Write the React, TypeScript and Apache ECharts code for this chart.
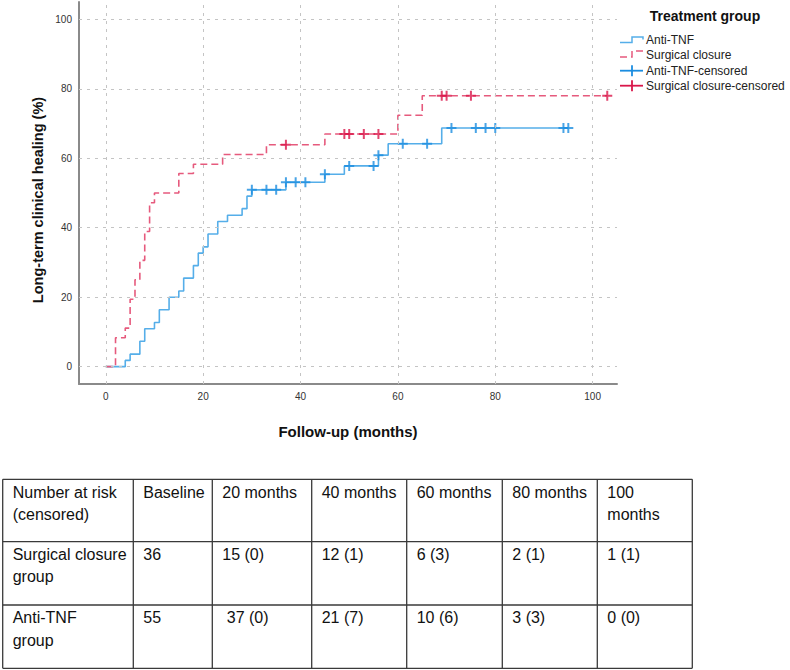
import React, { useEffect, useRef } from 'react';
import * as echarts from 'echarts';

// ---------- data ----------
const xTickValues = [0, 20, 40, 60, 80, 100];
const yTickValues = [0, 20, 40, 60, 80, 100];

// Kaplan-Meier cumulative healing (%) — [month, %]
const antiTnfSteps: [number, number][] = [
  [0, 0], [4, 1.8], [5, 3.6], [7, 7.3], [8, 10.9], [10, 12.7], [11, 16.4], [13, 20],
  [15, 21.8], [16, 25.5], [18, 29.1], [19, 32.7], [20, 34.5], [21, 38.2], [23, 41.8],
  [25, 43.6], [28, 45.5], [29, 49.1], [30, 50.9], [37, 53.1], [45, 55.4], [49, 57.8],
  [56, 60.9], [58, 64.2], [69, 68.7], [95, 68.7],
];
const antiTnfCensored: [number, number][] = [
  [30, 50.9], [33, 50.9], [35, 50.9], [37, 53.1], [39, 53.1], [41, 53.1], [45, 55.4],
  [50, 57.8], [55, 57.8], [56, 60.9], [61, 64.2], [66, 64.2], [71, 68.7], [76, 68.7],
  [78, 68.7], [80, 68.7], [94, 68.7], [95, 68.7],
];
const surgicalSteps: [number, number][] = [
  [0, 0], [2, 8.3], [4, 11.1], [5, 19.4], [6, 25], [7, 30.6], [8, 38.9], [9, 47.2],
  [10, 50], [15, 55.6], [18, 58.3], [24, 61.1], [33, 63.9], [45, 67], [60, 72.4],
  [65, 78], [103, 78],
];
const surgicalCensored: [number, number][] = [
  [37, 63.9], [49, 67], [50, 67], [53, 67], [56, 67], [69, 78], [70, 78], [75, 78], [103, 78],
];

const legendTitle = 'Treatment group';
const legendLabels = ['Anti-TNF', 'Surgical closure', 'Anti-TNF-censored', 'Surgical closure-censored'];

const tableHeader = ['Number at risk\n(censored)', 'Baseline', '20 months', '40 months', '60 months', '80 months', '100\nmonths'];
const tableSurgical = ['Surgical closure\ngroup', '36', '15 (0)', '12 (1)', '6 (3)', '2 (1)', '1 (1)'];
const tableAntiTnf = ['Anti-TNF\ngroup', '55', ' 37 (0)', '21 (7)', '10 (6)', '3 (3)', '0 (0)'];

// ---------- styles ----------
const BLUE_LINE = '#55aee9';
const BLUE_MARK = '#1b8de0';
const RED_LINE = '#e65a7d';
const RED_MARK = '#d9174a';
const FONT = '"Liberation Sans", Arial, sans-serif';
const PLUS = 'path://M4,0H6V4H10V6H6V10H4V6H0V4H4Z';

const colX = [2.7, 133.3, 212.3, 311.7, 406.7, 502.3, 597.3, 692.3];
const rowY = [479.3, 541.7, 605, 668.3];

function buildGraphics() {
  const els: any[] = [];
  // y axis title
  els.push({
    type: 'text', x: 38, y: 200, rotation: Math.PI / 2,
    style: { text: 'Long-term clinical healing (%)', font: `bold 14.5px ${FONT}`, fill: '#111', align: 'center', verticalAlign: 'middle' },
  });
  // legend
  els.push({
    type: 'text', x: 705, y: 16,
    style: { text: legendTitle, font: `bold 14px ${FONT}`, fill: '#111', align: 'center', verticalAlign: 'middle' },
  });
  const ly = [40, 54.5, 70.7, 85.7];
  els.push({
    type: 'polyline', shape: { points: [[620, 42.5], [632, 42.5], [632, 37], [643, 37], [643, 39.5]] },
    style: { stroke: BLUE_LINE, lineWidth: 1.5, fill: 'none' },
  });
  els.push({
    type: 'polyline', shape: { points: [[620, 57], [632, 57], [632, 51], [643, 51], [643, 54]] },
    style: { stroke: RED_LINE, lineWidth: 1.5, fill: 'none', lineDash: [7, 4] },
  });
  els.push({ type: 'line', shape: { x1: 620, y1: ly[2], x2: 643, y2: ly[2] }, style: { stroke: BLUE_MARK, lineWidth: 1.8 } });
  els.push({ type: 'line', shape: { x1: 632, y1: ly[2] - 5.5, x2: 632, y2: ly[2] + 5.5 }, style: { stroke: BLUE_MARK, lineWidth: 1.8 } });
  els.push({ type: 'line', shape: { x1: 620, y1: ly[3], x2: 643, y2: ly[3] }, style: { stroke: RED_MARK, lineWidth: 1.8 } });
  els.push({ type: 'line', shape: { x1: 632, y1: ly[3] - 5.5, x2: 632, y2: ly[3] + 5.5 }, style: { stroke: RED_MARK, lineWidth: 1.8 } });
  legendLabels.forEach((t, i) => {
    els.push({
      type: 'text', x: 646, y: ly[i],
      style: { text: t, font: `12px ${FONT}`, fill: '#222', align: 'left', verticalAlign: 'middle' },
    });
  });
  // table
  rowY.forEach((y) => {
    els.push({ type: 'line', shape: { x1: colX[0], y1: y, x2: colX[colX.length - 1], y2: y }, style: { stroke: '#3a3a3a', lineWidth: 1.3 } });
  });
  colX.forEach((x) => {
    els.push({ type: 'line', shape: { x1: x, y1: rowY[0], x2: x, y2: rowY[rowY.length - 1] }, style: { stroke: '#3a3a3a', lineWidth: 1.3 } });
  });
  [tableHeader, tableSurgical, tableAntiTnf].forEach((row, r) => {
    row.forEach((cell, c) => {
      els.push({
        type: 'text', x: colX[c] + 10, y: rowY[r] + 1.5,
        style: { text: cell, font: `16px ${FONT}`, fill: '#111', align: 'left', verticalAlign: 'top', lineHeight: 22.5 },
      });
    });
  });
  return els;
}

export default function App() {
  const ref = useRef<HTMLDivElement>(null);
  useEffect(() => {
    if (!ref.current) return;
    const chart = echarts.init(ref.current, null, { renderer: 'svg', width: 790, height: 670 });
    const isTick = (v: number, ticks: number[]) => ticks.some((t) => Math.abs(t - v) < 1e-6);
    const option: any = {
      animation: false,
      backgroundColor: '#ffffff',
      textStyle: { fontFamily: FONT },
      grid: { left: 79, right: 173, top: 2, bottom: 286, containLabel: false },
      xAxis: {
        type: 'value', min: -5.5, max: 105, interval: 0.5,
        axisLine: { show: true, onZero: false, lineStyle: { color: '#8a8a8a', width: 2 } },
        axisTick: { show: false },
        splitLine: { show: false },
        axisLabel: {
          margin: 7, color: '#333', fontSize: 10, fontFamily: FONT,
          formatter: (v: number) => (isTick(v, xTickValues) ? String(Math.round(v)) : ''),
        },
        name: 'Follow-up (months)', nameLocation: 'middle', nameGap: 40,
        nameTextStyle: { fontSize: 15, fontWeight: 'bold', color: '#111', fontFamily: FONT },
      },
      yAxis: {
        type: 'value', min: -5, max: 105, interval: 5,
        axisLine: { show: true, onZero: false, lineStyle: { color: '#8a8a8a', width: 2 } },
        axisTick: { show: false },
        splitLine: { show: false },
        axisLabel: {
          margin: 7, color: '#333', fontSize: 10, fontFamily: FONT,
          formatter: (v: number) => (isTick(v, yTickValues) ? String(Math.round(v)) : ''),
        },
      },
      series: [
        {
          type: 'line', name: 'grid', data: [], silent: true, z: 1,
          markLine: {
            silent: true, symbol: ['none', 'none'], label: { show: false },
            lineStyle: { color: '#c4c4c4', type: [3, 5], width: 1 },
            emphasis: { disabled: true },
            data: [
              ...xTickValues.map((v) => ({ xAxis: v })),
              ...yTickValues.map((v) => ({ yAxis: v })),
            ],
          },
        },
        {
          type: 'line', name: 'Anti-TNF', data: antiTnfSteps, step: 'end', showSymbol: false, z: 3,
          lineStyle: { color: BLUE_LINE, width: 1.6 }, itemStyle: { color: BLUE_LINE },
        },
        {
          type: 'line', name: 'Surgical closure', data: surgicalSteps, step: 'end', showSymbol: false, z: 3,
          lineStyle: { color: RED_LINE, width: 1.6, type: [7, 4] }, itemStyle: { color: RED_LINE },
        },
        {
          type: 'scatter', name: 'Anti-TNF-censored', data: antiTnfCensored, symbol: PLUS, symbolSize: 10, z: 4,
          itemStyle: { color: BLUE_MARK },
        },
        {
          type: 'scatter', name: 'Surgical closure-censored', data: surgicalCensored, symbol: PLUS, symbolSize: 10, z: 4,
          itemStyle: { color: RED_MARK },
        },
      ],
      graphic: buildGraphics(),
    };
    chart.setOption(option);
    return () => chart.dispose();
  }, []);
  return <div ref={ref} style={{ position: 'fixed', left: 0, top: 0, width: 790, height: 670, background: '#fff' }} />;
}
